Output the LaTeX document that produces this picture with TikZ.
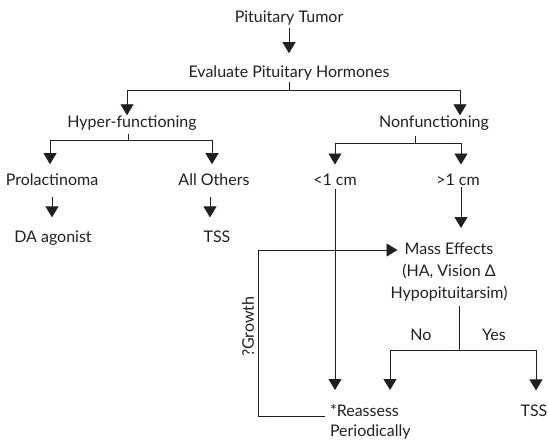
\documentclass[tikz,border=0pt]{standalone}
\usepackage{fontspec}
\setmainfont{Lato}
\usepackage{xcolor}
\definecolor{cInk}{HTML}{231F20}
\usepackage{tikz}
\usetikzlibrary{arrows.meta,calc}
\tikzset{
  node-text/.style={inner sep=0pt,outer sep=0pt,text=cInk,align=center,
    font=\fontsize{16}{22}\selectfont},
  link/.style={draw=cInk,line width=0.9pt},
  arrow/.style={link,-{Triangle[length=11pt,width=13pt]},shorten >=12pt},
  arrow-touch/.style={link,-{Triangle[length=11pt,width=13pt]}},
}

\begin{document}
\begin{tikzpicture}[x=1pt,y=-1pt]
  \useasboundingbox (0,0) rectangle (548,440);
  % top of the tree
  \node[node-text,anchor=base] (tumor)  at (289,22)  {Pituitary Tumor};
  \node[node-text,anchor=base] (eval)   at (289,77)  {Evaluate Pituitary Hormones};
  \node[node-text,anchor=base] (hyper)  at (132,127) {Hyper-functioning};
  \node[node-text,anchor=base] (nonf)   at (434,127) {Nonfunctioning};
  % hyper-functioning branch
  \node[node-text,anchor=base] (prol)   at (52,185)  {Prolactinoma};
  \node[node-text,anchor=base] (others) at (214,185) {All Others};
  \node[node-text,anchor=base] (da)     at (53,242)  {DA agonist};
  \node[node-text,anchor=base] (tss-a)  at (217,242) {TSS};
  % nonfunctioning branch
  \node[node-text,anchor=base] (small)  at (335,185) {<1 cm};
  \node[node-text,anchor=base] (large)  at (458,185) {>1 cm};
  \node[node-text,anchor=north] (mass)  at (449,243)
       {Mass Effects\\(HA, Vision Δ\\Hypopituitarsim)};
  \node[node-text,anchor=base] (no)     at (421,340) {No};
  \node[node-text,anchor=base] (yes)    at (494,340) {Yes};
  \node[node-text,anchor=north west,align=left,
        font=\fontsize{16}{20.5}\selectfont] (reass) at (330,404)
       {*Reassess\\Periodically};
  \node[node-text,anchor=base] (tss-b)  at (534,416) {TSS};

  \draw[arrow,shorten <=3pt] (tumor.south) -- (tumor.south |- eval.north);
  \coordinate (j1) at (eval.south |- 0,90);
  \draw[link,shorten <=2pt] (eval.south) -- (j1);
  \draw[arrow-touch] (j1) -| ([xshift=-5pt]hyper.north);
  \draw[arrow-touch] (j1) -| ([xshift=26pt]nonf.north);

  \coordinate (j2) at ([xshift=-4pt]hyper.south |- 0,140);
  \draw[link,shorten <=4pt] ([xshift=-4pt]hyper.south) -- (j2);
  \draw[arrow,shorten >=9pt] (j2) -| ([xshift=-2pt]prol.north);
  \draw[arrow,shorten >=9pt] (j2) -| ([xshift=-2pt]others.north);
  \draw[arrow,shorten <=12pt,shorten >=13pt] (prol.south) -- (prol.south |- da.north);
  \draw[arrow,shorten <=12pt,shorten >=13pt] ([xshift=-4pt]others.south) -- ([xshift=-4pt]others.south |- tss-a.north);

  \coordinate (j3) at ([xshift=-19pt]nonf.south |- 0,143);
  \draw[link,shorten <=6pt] ([xshift=-19pt]nonf.south) -- (j3);
  \draw[arrow,shorten >=9pt] (j3) -| (small.north);
  \draw[arrow,shorten >=9pt] (j3) -| ([xshift=3pt]large.north);
  \draw[arrow,shorten <=4pt,shorten >=14pt] (small.south) -- (small.south |- reass.north);
  \draw[arrow,shorten <=2pt,shorten >=15pt] ([xshift=3pt]large.south) -- ([xshift=3pt]large.south |- mass.north);

  \coordinate (j4) at ([xshift=10pt]mass.south |- 0,350);
  \draw[link,shorten <=5pt] ([xshift=10pt]mass.south) -- (j4);
  \draw[arrow,shorten >=14pt] (j4) -| ([xshift=60pt]reass.north west);
  \draw[arrow,shorten >=14pt] (j4) -| ([xshift=2pt]tss-b.north);

  % growth loop back to mass effects
  \draw[arrow-touch,shorten <=5pt] ([yshift=5pt]reass.west) -- ++(-72,0)
       |- node[node-text,rotate=90,above=4pt,pos=0.27] (growth) {?Growth}
       ([shift={(7pt,-7pt)}]mass.north west);
\end{tikzpicture}
\end{document}
